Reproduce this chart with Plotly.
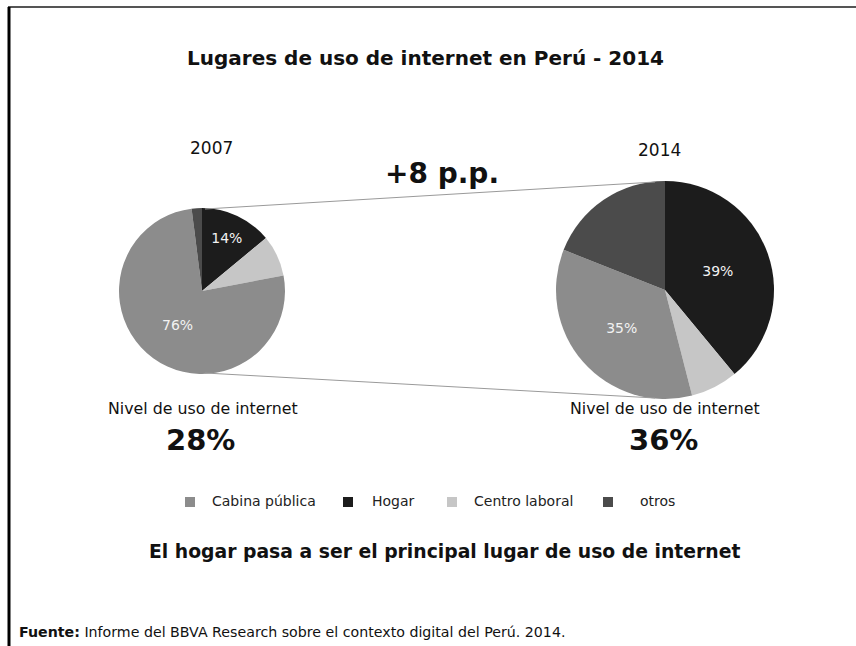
import plotly.graph_objects as go

W, H = 856, 646

# ---- data ----
legend_labels = ["Cabina pública", "Hogar", "Centro laboral", "otros"]
slice_labels = ["Hogar", "Centro laboral", "Cabina pública", "otros"]  # clockwise from 12 o'clock
values_2007 = [14, 8, 76, 2]
values_2014 = [39, 7, 35, 19]
shown_2007 = ["Hogar", "Cabina pública"]
shown_2014 = ["Hogar", "Cabina pública"]
years = ["2007", "2014"]
usage_level = ["28%", "36%"]
change_label = "+8 p.p."

colors = {"Cabina pública": "#8c8c8c", "Hogar": "#1c1c1c",
          "Centro laboral": "#c6c6c6", "otros": "#4b4b4b"}

FONT = "DejaVu Sans"

def px_x(x):
    return x / W

def px_y(y):
    return 1 - y / H

def domain(cx, cy, d):
    return dict(x=[px_x(cx - d / 2), px_x(cx + d / 2)],
                y=[px_y(cy + d / 2), px_y(cy - d / 2)])

fig = go.Figure()

def add_pie(vals, shown, cx, cy, d):
    text = [f"{v}%" if l in shown else "" for l, v in zip(slice_labels, vals)]
    fig.add_trace(go.Pie(labels=slice_labels, values=vals, sort=False,
                         direction="clockwise", rotation=0,
                         text=text, textinfo="text", textposition="inside",
                         insidetextfont=dict(color="#f2f2f2", size=14, family=FONT),
                         marker=dict(colors=[colors[l] for l in slice_labels],
                                     line=dict(width=0)),
                         showlegend=False,
                         domain=domain(cx, cy, d)))

L_CX, L_CY, L_D = 202, 291, 166
R_CX, R_CY, R_D = 665, 290, 218
add_pie(values_2007, shown_2007, L_CX, L_CY, L_D)
add_pie(values_2014, shown_2014, R_CX, R_CY, R_D)

shapes = [
    # frame
    dict(type="line", xref="paper", yref="paper", x0=px_x(8), x1=1.0,
         y0=px_y(7), y1=px_y(7), line=dict(color="#555555", width=2)),
    dict(type="line", xref="paper", yref="paper", x0=px_x(9), x1=px_x(9),
         y0=px_y(7), y1=0, line=dict(color="#000000", width=3)),
    # connectors
    dict(type="line", xref="paper", yref="paper", x0=px_x(205), x1=px_x(655),
         y0=px_y(L_CY - L_D / 2 + 1), y1=px_y(R_CY - R_D / 2 + 1),
         line=dict(color="#9a9a9a", width=1)),
    dict(type="line", xref="paper", yref="paper", x0=px_x(205), x1=px_x(655),
         y0=px_y(L_CY + L_D / 2 - 1), y1=px_y(R_CY + R_D / 2 - 1),
         line=dict(color="#9a9a9a", width=1)),
]

def ann(text, x, y, size, bold=False, xanchor="center", color="#111111"):
    return dict(text=f"<b>{text}</b>" if bold else text, x=px_x(x), y=px_y(y),
                xref="paper", yref="paper", showarrow=False, xanchor=xanchor,
                yanchor="middle", font=dict(family=FONT, size=size, color=color))

annotations = [
    ann("Lugares de uso de internet en Perú - 2014", 425, 58, 20, bold=True),
    ann(years[0], 211, 148, 17),
    ann(years[1], 659, 150, 17),
    ann(change_label, 442, 173, 28, bold=True),
    ann("Nivel de uso de internet", 203, 408, 15.8),
    ann("Nivel de uso de internet", 665, 408, 15.8),
    ann(usage_level[0], 200, 440, 29, bold=True),
    ann(usage_level[1], 663, 440, 29, bold=True),
    ann("El hogar pasa a ser el principal lugar de uso de internet", 445, 551, 18.8, bold=True),
    ann("<b>Fuente:</b> Informe del BBVA Research sobre el contexto digital del Perú. 2014.",
        17, 632, 14.2, xanchor="left"),
]

# legend keys (square + label) placed like the reference
legend_key_x = [185, 343, 447, 603]
legend_text_x = [210, 370, 472, 638]
LEG_Y = 502
for lab, kx, tx in zip(legend_labels, legend_key_x, legend_text_x):
    shapes.append(dict(type="rect", xref="paper", yref="paper",
                       x0=px_x(kx), x1=px_x(kx + 10),
                       y0=px_y(LEG_Y + 5), y1=px_y(LEG_Y - 5),
                       fillcolor=colors[lab], line=dict(width=0)))
    annotations.append(ann(lab, tx, LEG_Y - 1, 14, xanchor="left", color="#222222"))

fig.update_layout(
    width=W, height=H, margin=dict(l=0, r=0, t=0, b=0),
    paper_bgcolor="white", plot_bgcolor="white",
    shapes=shapes, annotations=annotations,
    showlegend=False,
)

fig.write_html("out.html")
